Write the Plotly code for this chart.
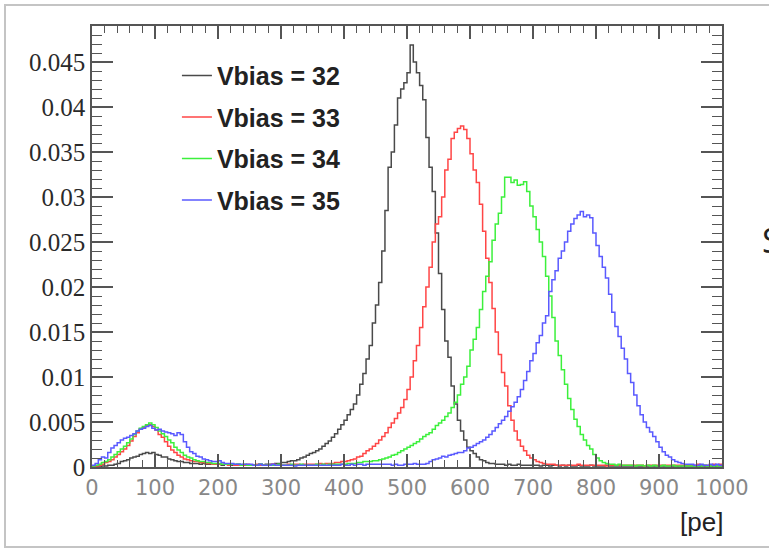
import plotly.graph_objects as go

# ---------------- data (histograms, 5 pe bins from 0 to 1000) ----------------
bin_start = 0
bin_width = 5
n_bins = 200

vbias_32 = [
    0.0001, 0.0001, 0.0000, 0.0001, 0.0001, 0.0002, 0.0002, 0.0003, 0.0004, 0.0006,
    0.0007, 0.0008, 0.0010, 0.0011, 0.0012, 0.0014, 0.0015, 0.0016, 0.0015, 0.0016,
    0.0014, 0.0013, 0.0011, 0.0011, 0.0009, 0.0008, 0.0007, 0.0006, 0.0006, 0.0005,
    0.0005, 0.0004, 0.0004, 0.0004, 0.0003, 0.0004, 0.0003, 0.0003, 0.0003, 0.0003,
    0.0003, 0.0002, 0.0003, 0.0003, 0.0002, 0.0002, 0.0003, 0.0002, 0.0002, 0.0002,
    0.0002, 0.0002, 0.0002, 0.0003, 0.0002, 0.0003, 0.0003, 0.0003, 0.0004, 0.0004,
    0.0005, 0.0005, 0.0006, 0.0007, 0.0007, 0.0008, 0.0010, 0.0011, 0.0013, 0.0015,
    0.0016, 0.0018, 0.0020, 0.0023, 0.0026, 0.0029, 0.0033, 0.0037, 0.0042, 0.0047,
    0.0052, 0.0058, 0.0064, 0.0070, 0.0080, 0.0092, 0.0104, 0.0120, 0.0135, 0.0160,
    0.0180, 0.0205, 0.0240, 0.0285, 0.0333, 0.0350, 0.0380, 0.0410, 0.0420, 0.0427,
    0.0438, 0.0469, 0.0450, 0.0438, 0.0424, 0.0408, 0.0366, 0.0333, 0.0306, 0.0260,
    0.0215, 0.0175, 0.0140, 0.0122, 0.0090, 0.0070, 0.0052, 0.0040, 0.0030, 0.0022,
    0.0018, 0.0015, 0.0011, 0.0008, 0.0007, 0.0005, 0.0004, 0.0004, 0.0003, 0.0003,
    0.0003, 0.0002, 0.0003, 0.0002, 0.0002, 0.0003, 0.0002, 0.0002, 0.0002, 0.0002,
    0.0002, 0.0002, 0.0001, 0.0002, 0.0002, 0.0001, 0.0002, 0.0002, 0.0001, 0.0002,
    0.0001, 0.0002, 0.0001, 0.0001, 0.0002, 0.0001, 0.0001, 0.0001, 0.0002, 0.0001,
    0.0001, 0.0001, 0.0001, 0.0002, 0.0001, 0.0001, 0.0001, 0.0001, 0.0001, 0.0001,
    0.0001, 0.0001, 0.0001, 0.0001, 0.0001, 0.0000, 0.0001, 0.0001, 0.0001, 0.0001,
    0.0001, 0.0001, 0.0001, 0.0001, 0.0001, 0.0001, 0.0000, 0.0001, 0.0001, 0.0001,
    0.0001, 0.0001, 0.0000, 0.0001, 0.0001, 0.0001, 0.0001, 0.0000, 0.0001, 0.0001,
]

vbias_33 = [
    0.0001, 0.0001, 0.0002, 0.0003, 0.0005, 0.0006, 0.0008, 0.0011, 0.0014, 0.0017,
    0.0020, 0.0024, 0.0029, 0.0034, 0.0038, 0.0042, 0.0044, 0.0046, 0.0047, 0.0045,
    0.0041, 0.0036, 0.0033, 0.0028, 0.0023, 0.0019, 0.0016, 0.0013, 0.0011, 0.0009,
    0.0008, 0.0007, 0.0006, 0.0006, 0.0005, 0.0005, 0.0004, 0.0004, 0.0003, 0.0003,
    0.0003, 0.0003, 0.0003, 0.0002, 0.0003, 0.0002, 0.0002, 0.0002, 0.0002, 0.0003,
    0.0002, 0.0002, 0.0003, 0.0002, 0.0002, 0.0002, 0.0002, 0.0003, 0.0002, 0.0002,
    0.0002, 0.0002, 0.0003, 0.0002, 0.0003, 0.0003, 0.0002, 0.0003, 0.0003, 0.0003,
    0.0003, 0.0003, 0.0004, 0.0003, 0.0004, 0.0004, 0.0004, 0.0005, 0.0005, 0.0006,
    0.0006, 0.0007, 0.0008, 0.0009, 0.0011, 0.0012, 0.0015, 0.0018, 0.0020, 0.0023,
    0.0026, 0.0030, 0.0034, 0.0038, 0.0044, 0.0049, 0.0054, 0.0060, 0.0066, 0.0075,
    0.0086, 0.0100, 0.0118, 0.0135, 0.0155, 0.0178, 0.0200, 0.0222, 0.0250, 0.0270,
    0.0278, 0.0300, 0.0330, 0.0342, 0.0365, 0.0372, 0.0376, 0.0379, 0.0375, 0.0365,
    0.0348, 0.0330, 0.0316, 0.0292, 0.0262, 0.0232, 0.0205, 0.0176, 0.0150, 0.0125,
    0.0105, 0.0090, 0.0068, 0.0052, 0.0040, 0.0030, 0.0023, 0.0018, 0.0013, 0.0010,
    0.0008, 0.0006, 0.0005, 0.0004, 0.0003, 0.0003, 0.0003, 0.0002, 0.0002, 0.0002,
    0.0002, 0.0002, 0.0002, 0.0002, 0.0003, 0.0002, 0.0002, 0.0002, 0.0002, 0.0002,
    0.0002, 0.0002, 0.0002, 0.0001, 0.0002, 0.0002, 0.0002, 0.0002, 0.0002, 0.0002,
    0.0002, 0.0002, 0.0002, 0.0002, 0.0002, 0.0001, 0.0002, 0.0002, 0.0002, 0.0002,
    0.0002, 0.0002, 0.0002, 0.0002, 0.0002, 0.0002, 0.0002, 0.0002, 0.0002, 0.0002,
    0.0002, 0.0002, 0.0003, 0.0002, 0.0002, 0.0002, 0.0002, 0.0003, 0.0002, 0.0003,
]

vbias_34 = [
    0.0001, 0.0002, 0.0003, 0.0005, 0.0006, 0.0008, 0.0011, 0.0014, 0.0017, 0.0020,
    0.0023, 0.0027, 0.0031, 0.0036, 0.0040, 0.0043, 0.0045, 0.0047, 0.0049, 0.0047,
    0.0044, 0.0040, 0.0037, 0.0034, 0.0030, 0.0027, 0.0022, 0.0019, 0.0016, 0.0013,
    0.0011, 0.0010, 0.0008, 0.0007, 0.0006, 0.0006, 0.0005, 0.0005, 0.0004, 0.0004,
    0.0004, 0.0003, 0.0003, 0.0003, 0.0003, 0.0003, 0.0003, 0.0002, 0.0003, 0.0002,
    0.0002, 0.0002, 0.0002, 0.0003, 0.0002, 0.0002, 0.0002, 0.0002, 0.0002, 0.0003,
    0.0002, 0.0002, 0.0002, 0.0003, 0.0002, 0.0002, 0.0003, 0.0002, 0.0002, 0.0002,
    0.0002, 0.0003, 0.0002, 0.0003, 0.0002, 0.0003, 0.0003, 0.0003, 0.0003, 0.0003,
    0.0003, 0.0004, 0.0004, 0.0004, 0.0005, 0.0005, 0.0006, 0.0006, 0.0006, 0.0007,
    0.0007, 0.0008, 0.0009, 0.0010, 0.0011, 0.0013, 0.0014, 0.0016, 0.0018, 0.0020,
    0.0022, 0.0024, 0.0026, 0.0028, 0.0031, 0.0034, 0.0036, 0.0038, 0.0042, 0.0046,
    0.0049, 0.0052, 0.0056, 0.0060, 0.0066, 0.0072, 0.0080, 0.0092, 0.0100, 0.0112,
    0.0130, 0.0142, 0.0155, 0.0175, 0.0195, 0.0212, 0.0228, 0.0252, 0.0270, 0.0282,
    0.0300, 0.0322, 0.0322, 0.0316, 0.0319, 0.0313, 0.0314, 0.0317, 0.0306, 0.0290,
    0.0278, 0.0264, 0.0250, 0.0234, 0.0212, 0.0190, 0.0166, 0.0140, 0.0124, 0.0108,
    0.0092, 0.0076, 0.0064, 0.0053, 0.0045, 0.0036, 0.0030, 0.0024, 0.0020, 0.0014,
    0.0010, 0.0007, 0.0005, 0.0004, 0.0003, 0.0003, 0.0002, 0.0003, 0.0002, 0.0002,
    0.0002, 0.0002, 0.0001, 0.0002, 0.0002, 0.0001, 0.0002, 0.0001, 0.0002, 0.0001,
    0.0001, 0.0002, 0.0001, 0.0001, 0.0002, 0.0001, 0.0001, 0.0001, 0.0001, 0.0001,
    0.0001, 0.0001, 0.0001, 0.0001, 0.0002, 0.0001, 0.0001, 0.0001, 0.0001, 0.0001,
]

vbias_35 = [
    0.0002, 0.0004, 0.0008, 0.0011, 0.0010, 0.0016, 0.0021, 0.0024, 0.0027, 0.0030,
    0.0032, 0.0033, 0.0035, 0.0037, 0.0040, 0.0042, 0.0043, 0.0045, 0.0046, 0.0043,
    0.0041, 0.0042, 0.0040, 0.0039, 0.0038, 0.0037, 0.0035, 0.0038, 0.0036, 0.0028,
    0.0022, 0.0017, 0.0015, 0.0012, 0.0011, 0.0009, 0.0008, 0.0007, 0.0006, 0.0006,
    0.0007, 0.0005, 0.0004, 0.0004, 0.0004, 0.0003, 0.0003, 0.0003, 0.0003, 0.0003,
    0.0003, 0.0002, 0.0002, 0.0003, 0.0002, 0.0002, 0.0002, 0.0003, 0.0002, 0.0002,
    0.0002, 0.0002, 0.0002, 0.0002, 0.0001, 0.0002, 0.0002, 0.0002, 0.0002, 0.0002,
    0.0002, 0.0002, 0.0002, 0.0002, 0.0002, 0.0002, 0.0002, 0.0002, 0.0002, 0.0003,
    0.0002, 0.0002, 0.0003, 0.0002, 0.0003, 0.0003, 0.0002, 0.0003, 0.0003, 0.0003,
    0.0003, 0.0003, 0.0003, 0.0003, 0.0003, 0.0002, 0.0003, 0.0002, 0.0002, 0.0003,
    0.0003, 0.0003, 0.0004, 0.0003, 0.0003, 0.0003, 0.0004, 0.0006, 0.0008, 0.0009,
    0.0010, 0.0012, 0.0011, 0.0013, 0.0014, 0.0015, 0.0016, 0.0016, 0.0018, 0.0021,
    0.0022, 0.0024, 0.0026, 0.0028, 0.0030, 0.0033, 0.0036, 0.0040, 0.0044, 0.0048,
    0.0052, 0.0056, 0.0062, 0.0067, 0.0072, 0.0078, 0.0086, 0.0096, 0.0106, 0.0118,
    0.0126, 0.0138, 0.0146, 0.0160, 0.0168, 0.0195, 0.0208, 0.0218, 0.0232, 0.0240,
    0.0250, 0.0262, 0.0270, 0.0276, 0.0280, 0.0284, 0.0278, 0.0280, 0.0277, 0.0260,
    0.0246, 0.0234, 0.0222, 0.0210, 0.0192, 0.0172, 0.0156, 0.0145, 0.0132, 0.0120,
    0.0104, 0.0094, 0.0080, 0.0068, 0.0058, 0.0050, 0.0044, 0.0039, 0.0034, 0.0028,
    0.0022, 0.0017, 0.0013, 0.0011, 0.0008, 0.0006, 0.0005, 0.0004, 0.0003, 0.0003,
    0.0003, 0.0002, 0.0002, 0.0003, 0.0002, 0.0002, 0.0003, 0.0002, 0.0003, 0.0002,
]

series_names = ["Vbias = 32", "Vbias = 33", "Vbias = 34", "Vbias = 35"]
series_values = [vbias_32, vbias_33, vbias_34, vbias_35]
series_colors = ["#4a4a4a", "#ff4646", "#3cf03c", "#5a5aff"]

x_ticks = [0, 100, 200, 300, 400, 500, 600, 700, 800, 900, 1000]
x_title = "[pe]"
side_text = "S"

# ---------------- figure ----------------
edges = [bin_start + i * bin_width for i in range(n_bins + 1)]

fig = go.Figure()
for name, vals, col in zip(series_names, series_values, series_colors):
    fig.add_trace(go.Scatter(
        x=edges, y=list(vals) + [vals[-1]],
        mode="lines", name="<b>" + name + "</b>", legendgroup=name,
        line=dict(color=col, width=1.5, shape="hv"),
    ))

axis_col = "#555555"
fig.update_layout(
    width=769, height=549,
    margin=dict(l=92, r=47, t=26, b=82),
    paper_bgcolor="white", plot_bgcolor="white",
    showlegend=True,
    legend=dict(
        x=0.1348, y=0.9395, xanchor="left", yanchor="top",
        bgcolor="rgba(0,0,0,0)", borderwidth=0,
        font=dict(family="Liberation Sans", size=25, color="#222222"),
        tracegroupgap=6, itemwidth=30,
    ),
    xaxis=dict(
        range=[0, 1000], tickvals=x_ticks,
        showgrid=False, zeroline=False,
        showline=True, linecolor=axis_col, linewidth=1.5, mirror="ticks",
        ticks="inside", ticklen=13, tickwidth=1.5, tickcolor=axis_col,
        tickfont=dict(family="DejaVu Sans", size=21, color="#888888"),
        ticklabelstandoff=1,
        minor=dict(ticks="inside", dtick=20, ticklen=7, tickwidth=1.2, tickcolor=axis_col),
    ),
    yaxis=dict(
        range=[0, 0.049], dtick=0.005, tick0=0,
        showgrid=False, zeroline=False,
        showline=True, linecolor=axis_col, linewidth=1.5, mirror="ticks",
        ticks="inside", ticklen=21, tickwidth=1.5, tickcolor=axis_col,
        tickfont=dict(family="Liberation Serif", size=25, color="#2a2a2a"),
        minor=dict(ticks="inside", dtick=0.001, ticklen=10, tickwidth=1.2, tickcolor=axis_col),
    ),
    shapes=[dict(type="rect", xref="paper", yref="paper",
                 x0=(5 - 92) / 630, x1=(790 - 92) / 630,
                 y0=(467 - 547) / 441, y1=(467 - 5) / 441,
                 line=dict(color="#c4c4c4", width=2), fillcolor="rgba(0,0,0,0)",
                 layer="below")],
    annotations=[
        dict(text=x_title, xref="paper", yref="paper", x=(725 - 92) / 630, y=(467 - 522) / 441,
             xanchor="right", yanchor="middle", showarrow=False,
             font=dict(family="Liberation Sans", size=26, color="#222222")),
        dict(text=side_text, xref="paper", yref="paper", x=(760 - 92) / 630, y=(467 - 240) / 441,
             xanchor="left", yanchor="middle", showarrow=False,
             font=dict(family="Open Sans", size=34, color="#222222")),
    ],
)

fig.write_html("out.html")
